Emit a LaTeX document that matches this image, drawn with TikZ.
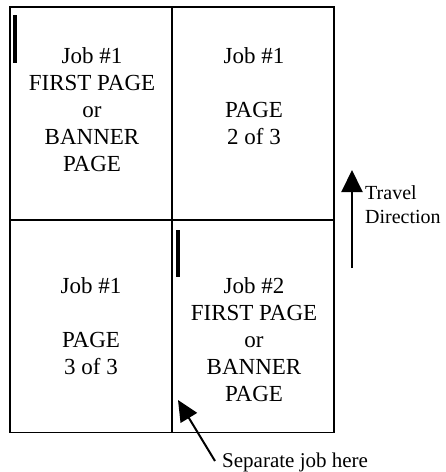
\documentclass[tikz,border=0pt]{standalone}
\usepackage{fontspec}
\setmainfont{Liberation Serif}
\usetikzlibrary{arrows.meta}
\tikzset{
  cell/.style={draw=black, line width=1.8pt, inner sep=0pt, minimum width=162pt, minimum height=213pt},
  celltext/.style={align=center, inner sep=0pt, font=\fontsize{23}{27}\selectfont},
  sidetext/.style={align=left, inner sep=0pt, font=\fontsize{20}{24}\selectfont},
  bar/.style={line width=4.5pt},
  pointer/.style={line width=2pt, -{Triangle[width=19pt,length=21pt]}},
  travel/.style={line width=2pt, -{Triangle[width=21pt,length=22pt]}}
}
\begin{document}
\begin{tikzpicture}[x=1pt, y=-1pt]
\useasboundingbox (0,0) rectangle (446,472);
% cells
\node[cell] (tl) at (91,113.5) {};
\node[cell] (tr) at (252.75,113.5) {};
\node[cell] (bl) at (91,326) {};
\node[cell] (br) at (252.75,326) {};
% texts
\node[celltext] (tlt) at (92,109.3) {Job \#1\\FIRST PAGE\\or\\BANNER\\PAGE};
\node[celltext] (trt) at (254,95.8) {Job \#1\\ \\PAGE\\2 of 3};
\node[celltext] (blt) at (91,325.8) {Job \#1\\ \\PAGE\\3 of 3};
\node[celltext] (brt) at (254,339.3) {Job \#2\\FIRST PAGE\\or\\BANNER\\PAGE};
% separator bars
\draw[bar] (15,15) -- (15,63);
\draw[bar] (178,230) -- (178,277);
% travel direction
\coordinate (tstart) at (352,268);
\coordinate (tend) at (352,170);
\draw[travel] (tstart) -- (tend);
\node[sidetext, anchor=base west] (trav) at (365,223) {Travel\\Direction};
% separate job here
\node[anchor=base west, inner sep=0pt, font=\fontsize{21}{25}\selectfont] (sep) at (222,467) {Separate job here};
\coordinate (sstart) at (215,461);
\coordinate (send) at (178,400);
\draw[pointer] (sstart) -- (send);
\end{tikzpicture}
\end{document}
